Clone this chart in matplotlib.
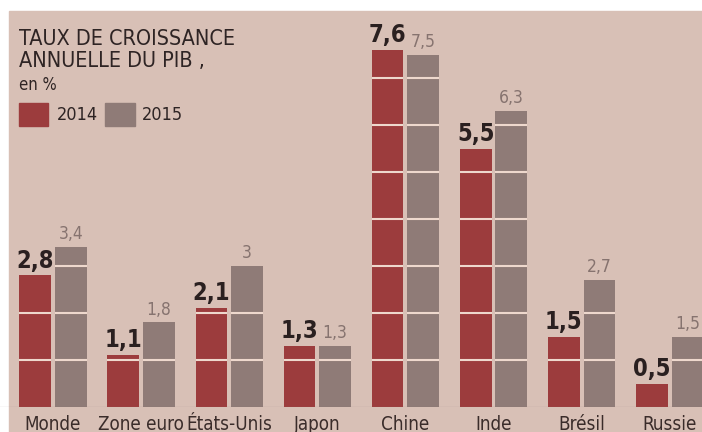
import matplotlib.pyplot as plt
import matplotlib.patches as mpatches
import numpy as np

# Data
countries = ["Monde", "Zone euro", "États-Unis", "Japon", "Chine", "Inde", "Brésil", "Russie"]
growth_2014 = [2.8, 1.1, 2.1, 1.3, 7.6, 5.5, 1.5, 0.5]
growth_2015 = [3.4, 1.8, 3.0, 1.3, 7.5, 6.3, 2.7, 1.5]
labels_2014 = ["2,8", "1,1", "2,1", "1,3", "7,6", "5,5", "1,5", "0,5"]
labels_2015 = ["3,4", "1,8", "3", "1,3", "7,5", "6,3", "2,7", "1,5"]

plt.rcParams["font.family"] = ["DejaVu Sans"]
plt.rcParams["font.stretch"] = "condensed"

bg = "#d8c0b6"
red = "#9c3c3d"
grey = "#8f7b77"
light = "#eed8cd"

fig = plt.figure(figsize=(7.02, 4.32), dpi=100, facecolor="white")
fig.patches.append(mpatches.Rectangle((9 / 702, 0), 1, 1 - 11 / 432,
                                      transform=fig.transFigure, color=bg, zorder=-10))

ax = fig.add_axes([0, 25 / 432, 1, 376 / 432])
ax.set_facecolor("none")

x = np.arange(len(countries))
w = 0.36
off = w / 2 + 0.022
ax.bar(x - off, growth_2014, w, color=red, linewidth=0, zorder=2)
ax.bar(x + off, growth_2015, w, color=grey, linewidth=0, zorder=2)

# light lines across bars at each whole unit
for xs, vals in [(x - off, growth_2014), (x + off, growth_2015)]:
    for xi, v in zip(xs, vals):
        levels = np.arange(1, int(np.ceil(v)))
        ax.hlines(levels, xi - w / 2, xi + w / 2, color=light, linewidth=1.5, zorder=3)

ax.axhline(0, color="#8a7570", linewidth=0.8, zorder=4)

for xi, v, s in zip(x - off, growth_2014, labels_2014):
    ax.text(xi, v + 0.06, s, ha="center", va="bottom", fontsize=17,
            fontweight="bold", color="#2a2020")
for xi, v, s in zip(x + off, growth_2015, labels_2015):
    ax.text(xi, v + 0.08, s, ha="center", va="bottom", fontsize=12.5,
            color="#86736f")
for xi, s in zip(x, countries):
    ax.text(xi, -0.49, s, ha="center", va="baseline", fontsize=13.5, color="#3a2c2a")

ax.set_xlim(-53 / 88.1, (702 - 53) / 88.1)
ax.set_ylim(0, 8)
ax.axis("off")

# Title and legend
fig.text(19 / 702, 1 - 45 / 432, "TAUX DE CROISSANCE", ha="left", va="baseline",
         fontsize=15.5, color="#2e2424")
fig.text(19 / 702, 1 - 67 / 432, "ANNUELLE DU PIB ,", ha="left", va="baseline",
         fontsize=15.5, color="#2e2424")
fig.text(19 / 702, 1 - 90 / 432, "en %", ha="left", va="baseline", fontsize=12, color="#2e2424")
fig.patches.append(mpatches.Rectangle((19 / 702, 1 - 126 / 432), 29 / 702, 23 / 432,
                                      transform=fig.transFigure, color=red, zorder=2))
fig.patches.append(mpatches.Rectangle((105 / 702, 1 - 126 / 432), 30 / 702, 23 / 432,
                                      transform=fig.transFigure, color=grey, zorder=2))
fig.text(57 / 702, 1 - 115 / 432, "2014", ha="left", va="center", fontsize=13, color="#2e2424")
fig.text(142 / 702, 1 - 115 / 432, "2015", ha="left", va="center", fontsize=13, color="#2e2424")

plt.savefig("out.png", dpi=100, facecolor=fig.get_facecolor())
